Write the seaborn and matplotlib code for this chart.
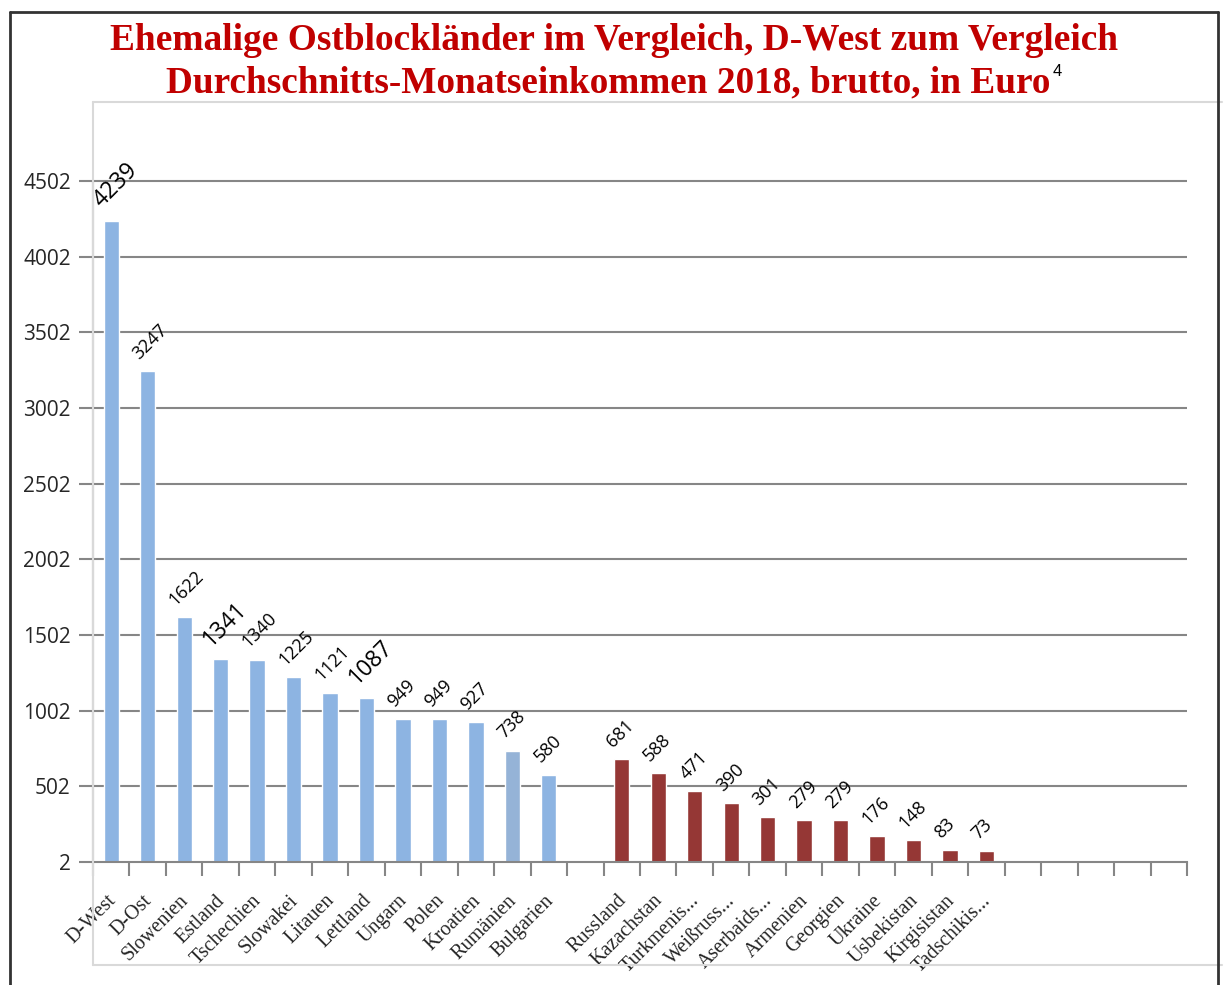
import matplotlib
matplotlib.use("Agg")
import matplotlib.pyplot as plt
import matplotlib.transforms as mtransforms
import seaborn as sns
import pandas as pd
import numpy as np
from matplotlib.lines import Line2D

# ---- data ----
countries_west_east = ["D-West", "D-Ost", "Slowenien", "Estland", "Tschechien", "Slowakei",
                       "Litauen", "Lettland", "Ungarn", "Polen", "Kroatien", "Rumänien", "Bulgarien"]
values_west_east = [4239, 3247, 1622, 1341, 1340, 1225, 1121, 1087, 949, 949, 927, 738, 580]
countries_former_ussr = ["Russland", "Kazachstan", "Turkmenis...", "Weißruss...", "Aserbaids...",
                         "Armenien", "Georgien", "Ukraine", "Usbekistan", "Kirgisistan", "Tadschikis..."]
values_former_ussr = [681, 588, 471, 390, 301, 279, 279, 176, 148, 83, 73]
y_ticks = [2, 502, 1002, 1502, 2002, 2502, 3002, 3502, 4002, 4502]
big_labels = {"D-West", "Estland", "Lettland"}

blue = "#8DB4E2"
blue_alt = "#95B3D7"
red = "#953735"

# build slot list (gap after Bulgarien, 5 empty slots at the end)
slots = countries_west_east + [" "] + countries_former_ussr + ["  ", "   ", "    ", "     ", "      "]
vals = values_west_east + [np.nan] + values_former_ussr + [np.nan] * 5
colors = {}
for c in countries_west_east:
    colors[c] = blue_alt if c == "Rumänien" else blue
for c in countries_former_ussr:
    colors[c] = red
for s in slots:
    colors.setdefault(s, "white")

df = pd.DataFrame({"land": slots, "wert": vals})

sns.set_style("white")
W, H = 1225, 985
fig = plt.figure(figsize=(W / 100, H / 100), dpi=100)
ax = fig.add_axes([93 / W, 1 - 862 / H, (1187 - 93) / W, (862 - 102) / H])

sns.barplot(data=df, x="land", y="wert", hue="land", order=slots, hue_order=slots,
            palette=colors, legend=False, width=0.42, ax=ax, saturation=1, errorbar=None)

ax.set_xlim(-0.5, len(slots) - 0.5)
ytop = 2 + (862 - 102) / (681 / 4500)
ax.set_ylim(2, ytop)
ax.set_yticks(y_ticks)
ax.set_yticklabels([str(t) for t in y_ticks], fontsize=15, family="Open Sans")
for t in y_ticks[1:]:
    ax.axhline(t, color="#868686", lw=1.5, zorder=0)
ax.set_xlabel("")
ax.set_ylabel("")

# x ticks: marks at boundaries, labels at centers
ax.set_xticks(np.arange(len(slots)))
labels = [s if s.strip() else "" for s in slots]
ax.set_xticklabels(labels, rotation=45, ha="right", rotation_mode="anchor",
                   family="Liberation Serif", fontsize=14.5)
ax.tick_params(axis="x", which="major", length=0, pad=21, bottom=True)
for lab in ax.get_xticklabels():
    lab.set_transform(lab.get_transform() + mtransforms.ScaledTranslation(-5 / 100, 0, fig.dpi_scale_trans))
ax.set_xticks(np.arange(len(slots) + 1) - 0.5, minor=True)
ax.tick_params(axis="x", which="minor", length=10, width=1.5, color="#868686", bottom=True)
ax.tick_params(axis="y", length=10, width=1.5, color="#868686", pad=6, left=True)

for sp in ["top", "right"]:
    ax.spines[sp].set_visible(False)
ax.spines["bottom"].set_color("#868686")
ax.spines["bottom"].set_linewidth(1.5)
ax.spines["left"].set_color("#868686")
ax.spines["left"].set_linewidth(1.5)
ax.spines["left"].set_bounds(2, 4502)

# value labels
for i, (s, v) in enumerate(zip(slots, vals)):
    if np.isnan(v):
        continue
    fs = 16.5 if s in big_labels else 13
    ax.annotate(str(int(v)), xy=(i, v), xytext=(-4, 6), textcoords="offset points",
                rotation=45, ha="left", va="bottom", rotation_mode="anchor",
                fontsize=fs, family="Open Sans", color="black")

# figure frame lines
fig.add_artist(Line2D([93 / W, 93 / W], [1 - 102 / H, 1 - 965 / H], color="#D9D9D9", lw=1.5))
fig.add_artist(Line2D([93 / W, 1 - 3 / W], [1 - 102 / H, 1 - 102 / H], color="#D9D9D9", lw=1.5))
fig.add_artist(Line2D([93 / W, 1 - 3 / W], [1 - 965 / H, 1 - 965 / H], color="#D9D9D9", lw=1.5))
fig.add_artist(Line2D([10 / W, 10 / W], [0, 1 - 12 / H], color="#333333", lw=2))
fig.add_artist(Line2D([10 / W, 1218 / W], [1 - 12 / H, 1 - 12 / H], color="#333333", lw=2))
fig.add_artist(Line2D([1218 / W, 1218 / W], [0, 1 - 12 / H], color="#333333", lw=2))

# title
fig.text(614.5 / W, 1 - 40 / H, "Ehemalige Ostblockländer im Vergleich, D-West zum Vergleich",
         ha="center", va="center", family="Liberation Serif", fontweight="bold",
         fontsize=26.9, color="#C00000")
fig.text(166 / W, 1 - 83 / H, "Durchschnitts-Monatseinkommen 2018, brutto, in Euro",
         ha="left", va="center", family="Liberation Serif", fontweight="bold",
         fontsize=26.85, color="#C00000")
fig.text(1057 / W, 1 - 71 / H, "4", ha="center", va="center", family="Liberation Sans",
         fontsize=12, color="black")

fig.savefig("out.png", dpi=100, facecolor="white")
